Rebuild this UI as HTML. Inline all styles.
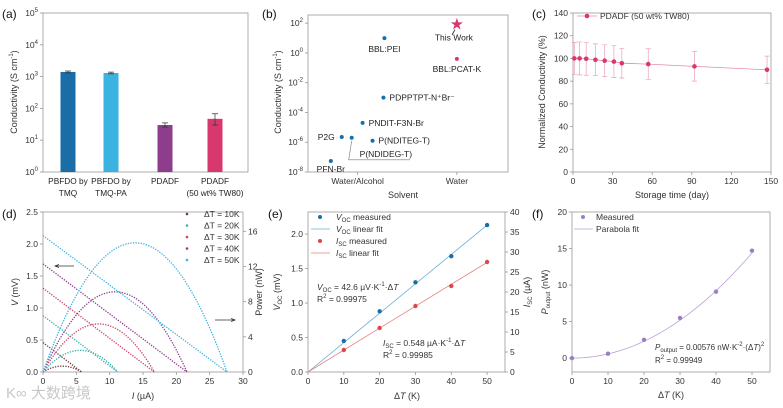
<!DOCTYPE html>
<html><head><meta charset="utf-8"><style>
body{margin:0;background:#fff}
svg{display:block;font-family:"Liberation Sans","Noto Sans CJK SC",sans-serif}
</style></head><body>
<svg id="fig" width="783" height="408" viewBox="0 0 783 408"></svg>
<script>
// ---- data ----
const aCats=[["PBFDO by","TMQ"],["PBFDO by","TMQ-PA"],["PDADF",""],["PDADF","(50 wt% TW80)"]];
const aVals=[1400,1300,30,47];
const aErrLo=[1300,1220,26,30];
const aErrHi=[1500,1380,35,68];
const bNames=["PFN-Br","P2G","P(NDIDEG-T)","PNDIT-F3N-Br","P(NDITEG-T)","PDPPTPT-N⁺Br⁻","BBL:PEI","BBL:PCAT-K","This Work"];
const bX=[0.73,0.84,0.94,1.05,1.15,1.26,1.27,2,2];
const bLogY=[-7.26,-5.65,-5.7,-4.7,-5.9,-3.0,1.0,-0.4,1.9];
const cDays=[1,5,10,17,24,31,37,57,92,147];
const cVals=[100,100,99.7,98.8,98,97.2,95.8,95,93,90];
const cErr=[14,14.5,14.5,14,14,14,13,13.5,13,12];
const dLabels=["ΔT = 10K","ΔT = 20K","ΔT = 30K","ΔT = 40K","ΔT = 50K"];
const dVoc=[0.46,0.88,1.31,1.69,2.13];
const dIsc=[5.8,11.2,16.7,21.6,27.6];
const eDT=[10,20,30,40,50];
const eVoc=[0.45,0.88,1.30,1.68,2.13];
const eIsc=[5.5,11,16.5,21.5,27.5];
const fDT=[0,10,20,30,40,50];
const fP=[0,0.6,2.5,5.5,9.1,14.7];
const fCoef=0.00576;
const eVslope=0.0426, eIslope=0.548;

const NS="http://www.w3.org/2000/svg";
const svg=document.getElementById('fig');
function mk(tag,a,p){const e=document.createElementNS(NS,tag);for(const k in a)e.setAttribute(k,a[k]);(p||svg).appendChild(e);return e;}
function lin(d0,d1,r0,r1){return v=>r0+(v-d0)/(d1-d0)*(r1-r0);}
function T(x,y,s,o){o=o||{};const e=mk('text',{x:x,y:y,'font-size':o.fs||8.5,fill:o.c||'#333','text-anchor':o.a||'middle'});if(o.rot)e.setAttribute('transform','rotate(-90 '+x+' '+y+')');e.innerHTML=s;return e;}
function frame(L,R,Tp,B,name){const r=mk('rect',{x:L,y:Tp,width:R-L,height:B-Tp,fill:'none',stroke:'#999','stroke-width':0.8});}
function xticks(L,B,sx,vals,labs,name){vals.forEach((v,i)=>{mk('line',{x1:sx(v),x2:sx(v),y1:B,y2:B+3,stroke:'#999','stroke-width':0.8});const t=T(sx(v),B+12,labs[i]);});}
function yticks(X,sy,vals,labs,name,right){vals.forEach((v,i)=>{mk('line',{x1:X,x2:right?X+3:X-3,y1:sy(v),y2:sy(v),stroke:'#999','stroke-width':0.8});const t=T(right?X+5:X-5,sy(v)+3,labs[i],{a:right?'start':'end'});});}
function plab(x,y,s){const t=T(x,y,s,{fs:12,c:'#111',a:'start'});}

// ---- (a) ----
{const L=43,R=248,Tp=13,B=172;frame(L,R,Tp,B,'panel-a-frame');plab(2,18,'(a)');
const sy=v=>lin(0,5,B,Tp)(Math.log10(v));
yticks(L,sy,[1,10,100,1000,1e4,1e5],['10<tspan dy="-4" font-size="6">0</tspan>','10<tspan dy="-4" font-size="6">1</tspan>','10<tspan dy="-4" font-size="6">2</tspan>','10<tspan dy="-4" font-size="6">3</tspan>','10<tspan dy="-4" font-size="6">4</tspan>','10<tspan dy="-4" font-size="6">5</tspan>'],'a-y-tick');
const t=T(17,92,'Conductivity (S cm<tspan dy="-4" font-size="6">-1</tspan><tspan dy="4">)</tspan>',{rot:1,fs:9});
const cols=['#1a6ea8','#3ab3e1','#8e3c8c','#d8386e'];const xs=[68,111,165,215];
aVals.forEach((v,i)=>{const b=mk('rect',{x:xs[i]-7.5,y:sy(v),width:15,height:B-sy(v),fill:cols[i]});
const e=mk('path',{d:`M${xs[i]} ${sy(aErrLo[i])}V${sy(aErrHi[i])}M${xs[i]-3} ${sy(aErrLo[i])}h6M${xs[i]-3} ${sy(aErrHi[i])}h6`,stroke:'#333','stroke-width':0.7,fill:'none'});
aCats[i].forEach((s,j)=>{const l=T(xs[i],184+j*12,s,{fs:8.3,c:'#222'});});});}

// ---- (b) ----
{const L=308,R=508,Tp=15,B=172;frame(L,R,Tp,B,'panel-b-frame');plab(262,18,'(b)');
const sx=lin(0.5,2.515,L,R),sy=lin(-8,2.55,B,Tp);
yticks(L,sy,[-8,-6,-4,-2,0,2],[-8,-6,-4,-2,0,2].map(v=>'10<tspan dy="-4" font-size="6">'+v+'</tspan>'),'b-y-tick');
xticks(L,B,sx,[1,2],['Water/Alcohol','Water'],'b-x-tick');
let t=T(281,92,'Conductivity (S cm<tspan dy="-4" font-size="6">-1</tspan><tspan dy="4">)</tspan>',{rot:1,fs:9});
t=T(403,198,'Solvent',{fs:9});
const off=[[0,11,'middle'],[-7,3,'end'],[8,19,'start'],[6,3,'start'],[6,3,'start'],[6,3,'start'],[0,14,'middle'],[0,13,'middle'],[-3,16,'middle']];
bNames.forEach((n,i)=>{const x=sx(bX[i]),y=sy(bLogY[i]);let m;
if(i==8){m=mk('text',{x:x,y:y+4,'font-size':13,fill:'#d8386e','text-anchor':'middle'});m.textContent='★';}
else m=mk('circle',{cx:x,cy:y,r:2,fill:i==7?'#d8386e':'#1a6ea8'});

const l=T(x+off[i][0],y+off[i][1],n,{a:off[i][2],fs:8.5,c:'#222'});});
const ln=mk('path',{d:`M${sx(0.94)} ${sy(-5.7)+3}L${sx(0.94)-3} ${sy(-5.7)+22}H410`,stroke:'#777','stroke-width':0.6,fill:'none'});
const ar=mk('path',{d:`M452 35L${sx(2)-2} ${sy(1.9)+5}`,stroke:'#222','stroke-width':0.8});}

// ---- (c) ----
{const L=573,R=771,Tp=13,B=172;frame(L,R,Tp,B,'panel-c-frame');plab(532,18,'(c)');
const sx=lin(0,150,L,R),sy=lin(0,140,B,Tp);
yticks(L,sy,[0,20,40,60,80,100,120,140],['0','20','40','60','80','100','120','140'],'c-y-tick');
xticks(L,B,sx,[0,30,60,90,120,150],['0','30','60','90','120','150'],'c-x-tick');
let t=T(545,92,'Normalized Conductivity (%)',{rot:1,fs:9});
t=T(672,198,'Storage time (day)',{fs:9});
const pl=mk('polyline',{points:cDays.map((d,i)=>sx(d)+','+sy(cVals[i])).join(' '),fill:'none',stroke:'#e78aa8','stroke-width':0.8});
cDays.forEach((d,i)=>{const x=sx(d);const e=mk('path',{d:`M${x} ${sy(cVals[i]-cErr[i])}V${sy(cVals[i]+cErr[i])}M${x-2.5} ${sy(cVals[i]-cErr[i])}h5M${x-2.5} ${sy(cVals[i]+cErr[i])}h5`,stroke:'#eaa0b8','stroke-width':0.7,fill:'none'});
const c=mk('circle',{cx:x,cy:sy(cVals[i]),r:2.3,fill:'#d8386e'});});
const lg=mk('path',{d:'M577 16H597',stroke:'#e78aa8','stroke-width':0.8});
const lm=mk('circle',{cx:587,cy:16,r:2.3,fill:'#d8386e'});
t=T(600,19,'PDADF (50 wt% TW80)',{a:'start',fs:8.5});}

// ---- (d) ----
{const L=43,R=243,Tp=212,B=372;frame(L,R,Tp,B,'panel-d-frame');plab(2,218,'(d)');
const sx=lin(0,30,L,R),sy=lin(0,2.5,B,Tp),sp=lin(0,18.2,B,Tp);
yticks(L,sy,[0,0.5,1,1.5,2,2.5],['0.0','0.5','1.0','1.5','2.0','2.5'],'d-y-tick');
yticks(R,sp,[0,4,8,12,16],['0','4','8','12','16'],'d-y2-tick',true);
xticks(L,B,sx,[0,5,10,15,20,25,30],['0','5','10','15','20','25','30'],'d-x-tick');
let t=T(18,292,'<tspan font-style="italic">V</tspan> (mV)',{rot:1,fs:9});
t=T(262,292,'Power (nW)',{rot:1,fs:9});
t=T(143,399,'<tspan font-style="italic">I</tspan> (µA)',{fs:9});
const cols=['#6e3b3b','#35b2b4','#d33f6c','#8e3c8c','#3ab3e1'];
dVoc.forEach((v0,k)=>{const i0=dIsc[k];const vp=[],pp=[];for(let j=0;j<=40;j++){const I=i0*j/40,V=v0*(1-I/i0);vp.push(sx(I)+','+sy(V));pp.push(sx(I)+','+sp(V*I));}
const a=mk('polyline',{points:vp.join(' '),fill:'none',stroke:cols[k],'stroke-width':1.3,'stroke-dasharray':'1.3 1.3'});
const b=mk('polyline',{points:pp.join(' '),fill:'none',stroke:cols[k],'stroke-width':1.3,'stroke-dasharray':'1.3 1.3'});
const y=217+k*11.5;const m=mk('circle',{cx:187,cy:y-3,r:1.3,fill:cols[k]});
const l=T(204,y,dLabels[k],{a:'start',fs:8.5});});
const a1=mk('path',{d:'M74 266H56M59 264.5L55 266L59 267.5',stroke:'#333','stroke-width':0.8,fill:'none'});
const a2=mk('path',{d:'M215 320H234M231 318.5L235 320L231 321.5',stroke:'#333','stroke-width':0.8,fill:'none'});}

// ---- (e) ----
{const L=308,R=505,Tp=212,B=372;frame(L,R,Tp,B,'panel-e-frame');plab(268,218,'(e)');
const sx=lin(0,55,L,R),sy=lin(0,2.32,B,Tp),s2=lin(0,40,B,Tp);
yticks(L,sy,[0,0.5,1,1.5,2],['0.0','0.5','1.0','1.5','2.0'],'e-y-tick');
yticks(R,s2,[0,5,10,15,20,25,30,35,40],['0','5','10','15','20','25','30','35','40'],'e-y2-tick',true);
xticks(L,B,sx,[0,10,20,30,40,50],['0','10','20','30','40','50'],'e-x-tick');
let t=T(280,292,'<tspan font-style="italic">V</tspan><tspan dy="2" font-size="6">OC</tspan><tspan dy="-2"> (mV)</tspan>',{rot:1,fs:9});
t=T(530,292,'<tspan font-style="italic">I</tspan><tspan dy="2" font-size="6">SC</tspan><tspan dy="-2"> (µA)</tspan>',{rot:1,fs:9});
t=T(407,399,'Δ<tspan font-style="italic">T</tspan> (K)',{fs:9});
let f=mk('line',{x1:sx(0),y1:sy(0),x2:sx(50),y2:sy(eVslope*50),stroke:'#6aaed6','stroke-width':0.8});
f=mk('line',{x1:sx(0),y1:s2(0),x2:sx(50),y2:s2(eIslope*50),stroke:'#e88080','stroke-width':0.8});
eDT.forEach((d,i)=>{let c=mk('circle',{cx:sx(d),cy:sy(eVoc[i]),r:2.2,fill:'#1a6ea8'});
c=mk('circle',{cx:sx(d),cy:s2(eIsc[i]),r:2.2,fill:'#d94848'});});
const lg=[['c','#1a6ea8','V','OC',' measured'],['l','#6aaed6','V','OC',' linear fit'],['c','#d94848','I','SC',' measured'],['l','#e88080','I','SC',' linear fit']];
lg.forEach((g,k)=>{const y=220+k*12;let m;if(g[0]=='c')m=mk('circle',{cx:320,cy:y-3,r:2,fill:g[1]});else m=mk('line',{x1:311,x2:330,y1:y-3,y2:y-3,stroke:g[1],'stroke-width':0.8});
const l=T(336,y,'<tspan font-style="italic">'+g[2]+'</tspan><tspan dy="2" font-size="6">'+g[3]+'</tspan><tspan dy="-2">'+g[4]+'</tspan>',{a:'start',fs:8.5});});
t=T(317,290,'<tspan font-style="italic">V</tspan><tspan dy="2" font-size="6">OC</tspan><tspan dy="-2"> = 42.6 µV·K</tspan><tspan dy="-4" font-size="6">-1</tspan><tspan dy="4">·Δ</tspan><tspan font-style="italic">T</tspan>',{a:'start',fs:8.5});
t=T(317,302,'R<tspan dy="-4" font-size="6">2</tspan><tspan dy="4"> = 0.99975</tspan>',{a:'start',fs:8.5});
t=T(383,346,'<tspan font-style="italic">I</tspan><tspan dy="2" font-size="6">SC</tspan><tspan dy="-2"> = 0.548 µA·K</tspan><tspan dy="-4" font-size="6">-1</tspan><tspan dy="4">·Δ</tspan><tspan font-style="italic">T</tspan>',{a:'start',fs:8.5});
t=T(383,358,'R<tspan dy="-4" font-size="6">2</tspan><tspan dy="4"> = 0.99985</tspan>',{a:'start',fs:8.5});}

// ---- (f) ----
{const L=572,R=770,Tp=212,B=372;frame(L,R,Tp,B,'panel-f-frame');plab(532,218,'(f)');
const sx=lin(0,55,L,R),sy=lin(-1.9,20,B,Tp);
yticks(L,sy,[0,5,10,15,20],['0','5','10','15','20'],'f-y-tick');
xticks(L,B,sx,[0,10,20,30,40,50],['0','10','20','30','40','50'],'f-x-tick');
let t=T(548,292,'<tspan font-style="italic">P</tspan><tspan dy="2" font-size="6">output</tspan><tspan dy="-2"> (nW)</tspan>',{rot:1,fs:9});
t=T(671,398,'Δ<tspan font-style="italic">T</tspan> (K)',{fs:9});
const pts=[];for(let j=0;j<=50;j++)pts.push(sx(j)+','+sy(fCoef*j*j));
const fit=mk('polyline',{points:pts.join(' '),fill:'none',stroke:'#b8a3d3','stroke-width':0.8});
fDT.forEach((d,i)=>{const c=mk('circle',{cx:sx(d),cy:sy(fP[i]),r:2.2,fill:'#9a7fc2'});});
let m=mk('circle',{cx:583,cy:217,r:2,fill:'#9a7fc2'});
m=mk('line',{x1:574,x2:593,y1:229,y2:229,stroke:'#b8a3d3','stroke-width':0.8});
t=T(596,220,'Measured',{a:'start'});
t=T(596,232,'Parabola fit',{a:'start'});
t=T(655,350,'<tspan font-style="italic">P</tspan><tspan dy="2" font-size="6">output</tspan><tspan dy="-2"> = 0.00576 nW·K</tspan><tspan dy="-4" font-size="6">-2</tspan><tspan dy="4">·(Δ</tspan><tspan font-style="italic">T</tspan>)<tspan dy="-4" font-size="6">2</tspan>',{a:'start',fs:8});
t=T(655,363,'R<tspan dy="-4" font-size="6">2</tspan><tspan dy="4"> = 0.99949</tspan>',{a:'start',fs:8});}

// watermark
const wm=T(6,398,'K∞ 大数跨境',{a:'start',fs:15,c:'#c8c8c8'});


</script>
</body></html>
